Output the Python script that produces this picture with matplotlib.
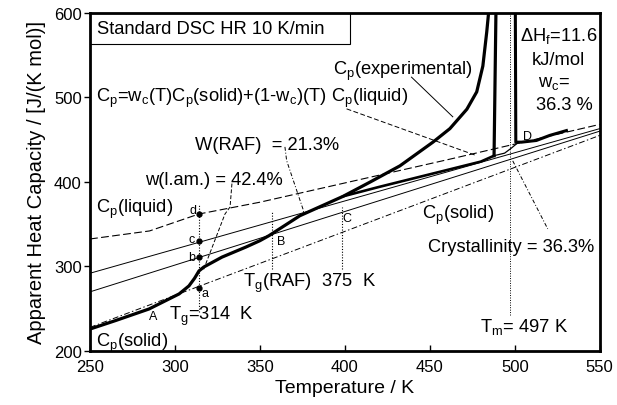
import matplotlib
matplotlib.use("Agg")
import matplotlib.pyplot as plt
from matplotlib.patches import Rectangle

plt.rcParams['font.family'] = ['Liberation Sans', 'DejaVu Sans']
plt.rcParams['mathtext.fontset'] = 'custom'
plt.rcParams['mathtext.rm'] = 'Liberation Sans'
plt.rcParams['mathtext.it'] = 'Liberation Sans:italic'
plt.rcParams['mathtext.sf'] = 'Liberation Sans'

# ---------------- data ----------------
# experimental curve (thick), glass transition -> melting peak rise
T_exp = [250, 265, 284.7, 302.4, 308.2, 311.5, 314.1, 317, 327.6, 341.8, 350,
         355.3, 373.5, 399, 415, 432.4, 451.8, 461.8, 471.8, 477.6, 481.2,
         483.5, 485.3]
cp_exp = [226, 236, 249.7, 267.5, 277, 286, 294.7, 299.4, 311, 323, 330.5,
          336.4, 360, 383, 400, 419, 447, 463, 486, 506.5, 537, 577.5, 615]
# descending side of first melting peak
T_peak_down = [489.0, 487.8]
cp_peak_down = [615, 431]
# baseline curve Cp = wc(T)Cp(solid)+(1-wc)(T)Cp(liquid) (thick)
T_base = [399, 420, 440, 462, 480, 487.8]
cp_base = [383, 394, 404, 415, 424, 431]
# thin segment between the peaks
T_mid = [487.8, 494, 498, 501]
cp_mid = [431, 434, 440, 445]
# second peak and melt (point D)
T_melt = [500.3, 500.6, 503.9, 512.7, 520.6, 530.4]
cp_melt = [615, 447, 447, 449, 455, 460.7]

# reference lines
T_line = [250, 550]
cp_solid = [228, 455]
cp_b_line = [270, 460]
cp_c_line = [292, 463]
T_liq = [250, 285, 314, 350, 462, 550]
cp_liq = [332.5, 342, 362, 376, 427, 468]

# points a, b, c, d at Tg
T_g = 314
cp_points = [275, 311, 330, 362]
point_labels = ['a', 'b', 'c', 'd']

T_raf = [357, 398]
T_m = 497

x_ticks = [250, 300, 350, 400, 450, 500, 550]
y_ticks = [200, 300, 400, 500, 600]

# ---------------- figure ----------------
fig = plt.figure(figsize=(6.17, 4.06), dpi=100)
ax = fig.add_axes([0.146, 0.133, 0.826, 0.833])
ax.set_xlim(250, 550)
ax.set_ylim(200, 600)

k = 'black'
# reference lines
ax.plot(T_line, cp_solid, color=k, lw=0.7, dashes=(6, 2.5, 1.5, 2.5))
ax.plot(T_liq, cp_liq, color=k, lw=0.8, dashes=(7, 3))
ax.plot(T_line, cp_b_line, color=k, lw=0.7)
ax.plot(T_line, cp_c_line, color=k, lw=0.7)

# dotted verticals
ax.plot([T_g, T_g], [246, 374], color=k, lw=0.8, ls=(0, (1, 1.5)))
ax.plot([T_raf[0], T_raf[0]], [297, 366], color=k, lw=0.8, ls=(0, (1, 1.5)))
ax.plot([T_raf[1], T_raf[1]], [297, 370], color=k, lw=0.8, ls=(0, (1, 1.5)))
ax.plot([T_m, T_m], [242, 600], color=k, lw=0.7, ls=(0, (1, 1.5)))

# experimental curves
ax.plot(T_exp, cp_exp, color=k, lw=2.3, solid_capstyle='butt')
ax.plot(T_peak_down, cp_peak_down, color=k, lw=2.3)
ax.plot(T_base, cp_base, color=k, lw=1.9)
ax.plot(T_mid, cp_mid, color=k, lw=0.9)
ax.plot(T_melt, cp_melt, color=k, lw=2.2)

# points
ax.plot([T_g] * 4, cp_points, 'o', color=k, ms=3.5)

# leaders
ax.plot([401, 477.6], [486.4, 431], color=k, lw=0.7, dashes=(5, 2.5))
ax.plot([439.2, 463.5], [523.9, 477], color=k, lw=0.7)
ax.plot([364.7, 365.7, 375.3, 376], [441.4, 425.2, 368, 361], color=k, lw=0.7,
        dashes=(4, 2, 1, 2))
ax.plot([333.5, 332.4, 329.4, 316.5], [398, 370.4, 362, 294.7], color=k, lw=0.7,
        dashes=(4, 2))
ax.plot([498.8, 519.4], [424.9, 344.4], color=k, lw=0.7, dashes=(4, 2, 1, 2))

# text
fs = 13.2
ax.add_patch(Rectangle((0, 0.908), 0.51, 0.092, transform=ax.transAxes,
                       fill=False, lw=0.8, ec=k))
ax.text(0.013, 0.955, 'Standard DSC HR 10 K/min', transform=ax.transAxes,
        fontsize=fs, va='center', ha='left')
ax.text(253.3, 496, r'C$_\mathrm{p}$=w$_\mathrm{c}$(T)C$_\mathrm{p}$(solid)+(1-w$_\mathrm{c}$)(T) C$_\mathrm{p}$(liquid)',
        fontsize=fs, va='baseline')
ax.text(393, 527.8, r'C$_\mathrm{p}$(experimental)', fontsize=fs, va='baseline')
ax.text(311.8, 439, 'W(RAF)  = 21.3%', fontsize=fs, va='baseline')
ax.text(282.4, 397.6, 'w(l.am.) = 42.4%', fontsize=fs, va='baseline')
ax.text(253.3, 364.5, r'C$_\mathrm{p}$(liquid)', fontsize=fs, va='baseline')
ax.text(253.3, 206.3, r'C$_\mathrm{p}$(solid)', fontsize=fs, va='baseline')
ax.text(296.5, 237.9, r'T$_\mathrm{g}$=314  K', fontsize=fs, va='baseline')
ax.text(340.2, 277.3, r'T$_\mathrm{g}$(RAF)  375  K', fontsize=fs, va='baseline')
ax.text(445.1, 357, r'C$_\mathrm{p}$(solid)', fontsize=fs, va='baseline')
ax.text(449, 318.7, 'Crystallinity = 36.3%', fontsize=fs, va='baseline')
ax.text(479.4, 224, r'T$_\mathrm{m}$= 497 K', fontsize=fs, va='baseline')
ax.text(503, 567.3, r'$\Delta$H$_\mathrm{f}$=11.6', fontsize=fs, va='baseline')
ax.text(509.8, 539.6, 'kJ/mol', fontsize=fs, va='baseline')
ax.text(513.5, 514, r'w$_\mathrm{c}$=', fontsize=fs, va='baseline')
ax.text(512.7, 486.4, '36.3 %', fontsize=fs, va='baseline')

sfs = 9
ax.text(312.4, 363.3, 'd', fontsize=sfs, ha='right', va='baseline')
ax.text(311.8, 329, 'c', fontsize=sfs, ha='right', va='baseline')
ax.text(311.8, 307.7, 'b', fontsize=sfs, ha='right', va='baseline')
ax.text(315.5, 265, 'a', fontsize=sfs, ha='left', va='baseline')
ax.text(284.7, 237.9, 'A', fontsize=sfs, va='baseline')
ax.text(359.8, 326.6, 'B', fontsize=sfs, va='baseline')
ax.text(398.8, 353.8, 'C', fontsize=sfs, va='baseline')
ax.text(504.7, 451, 'D', fontsize=sfs, va='baseline')

# axes styling
for s in ax.spines.values():
    s.set_linewidth(2.0)
ax.set_xticks(x_ticks)
ax.set_yticks(y_ticks)
ax.tick_params(axis='x', direction='in', length=4, width=1, labelsize=12, pad=6)
ax.tick_params(axis='y', direction='out', length=4, width=1, labelsize=12, pad=2)
ax.set_xlabel('Temperature / K', fontsize=14, labelpad=3)
ax.set_ylabel('Apparent Heat Capacity / [J/(K mol)]', fontsize=14.5, labelpad=6)

fig.savefig('out.png', dpi=100)
